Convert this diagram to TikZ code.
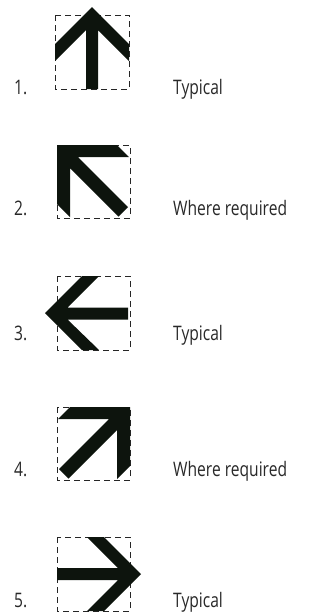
\documentclass[tikz,border=0pt]{standalone}
\usepackage{fontspec}
\setmainfont{Open Sans}[FakeStretch=0.78]
\definecolor{arrowfill}{RGB}{13,20,13}
\definecolor{labelgray}{RGB}{40,40,40}
\tikzset{
  signbox/.style={draw=black!85, line width=0.9pt, dash pattern=on 6pt off 4pt},
  arrowshape/.style={fill=arrowfill},
  rowlabel/.style={anchor=base west, inner sep=0pt, text=labelgray,
    font=\fontsize{20}{24}\selectfont}
}
\begin{document}
\begin{tikzpicture}[x=1pt, y=-1pt]
                \useasboundingbox (0,0) rectangle (324,616);

                % 1. Up
                \draw[signbox] (55,15) rectangle (129,89);
                \fill[arrowshape] (92,7) -- (55,44) -- (55,61) -- (86,30) -- (86,89)
                    -- (98,89) -- (98,30) -- (129,61) -- (129,44) -- cycle;
                \node[rowlabel] (num1) at (14,94) {1.};
                \node[rowlabel] (txt1) at (173,94) {Typical};

                % 2. Up left
                \draw[signbox] (57,145) rectangle (130,218);
                \fill[arrowshape] (57,145) -- (117,145) -- (129,157) -- (78,157) -- (128,207)
                    -- (118.5,216.5) -- (70,168) -- (70,217) -- (57,204) -- cycle;
                \node[rowlabel] (num2) at (14,215) {2.};
                \node[rowlabel] (txt2) at (173,215) {Where required};

                % 3. Left
                \draw[signbox] (57,276) rectangle (130,350);
                \fill[arrowshape] (45,313) -- (82,276) -- (99,276) -- (67.5,307.5) -- (128,307.5)
                    -- (128,319.5) -- (67.5,319.5) -- (99,350) -- (82,350) -- cycle;
                \node[rowlabel] (num3) at (14,340) {3.};
                \node[rowlabel] (txt3) at (173,340) {Typical};

                % 4. Up right
                \draw[signbox] (57,407) rectangle (130,480);
                \fill[arrowshape] (130,407) -- (70,407) -- (58,419) -- (109,419) -- (59,469)
                    -- (68.5,478.5) -- (117,430) -- (117,479) -- (130,466) -- cycle;
                \node[rowlabel] (num4) at (14,476) {4.};
                \node[rowlabel] (txt4) at (173,476) {Where required};

                % 5. Right
                \draw[signbox] (57,537) rectangle (130,611);
                \fill[arrowshape] (141,574) -- (104,537) -- (87,537) -- (118,568) -- (57,568)
                    -- (57,580) -- (118,580) -- (87,611) -- (104,611) -- cycle;
                \node[rowlabel] (num5) at (14,607) {5.};
                \node[rowlabel] (txt5) at (173,607) {Typical};
            \end{tikzpicture}
\end{document}
